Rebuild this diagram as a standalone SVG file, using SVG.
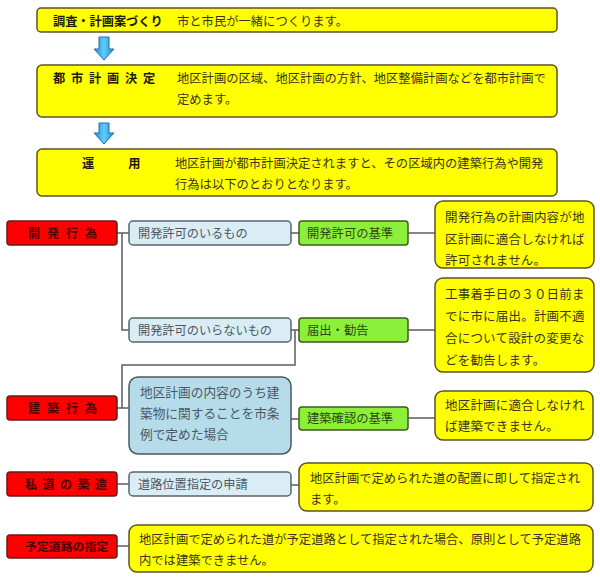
<svg xmlns="http://www.w3.org/2000/svg" width="600" height="581" viewBox="0 0 600 581">
<defs>
<linearGradient id="ag" x1="0" y1="0" x2="1" y2="0">
<stop offset="0" stop-color="#1a8fd8"/><stop offset="0.5" stop-color="#62ccf8"/><stop offset="1" stop-color="#1a8fd8"/>
</linearGradient>
<style>
text { font-family: "Noto Sans CJK JP", sans-serif; }
.y { fill:#ffff00; stroke:#5c5228; stroke-width:1.5; }
.r { fill:#ff0000; stroke:#6a1a1a; stroke-width:1.5; }
.lb { fill:#dbedf4; stroke:#56646e; stroke-width:1.5; }
.b { fill:#b5dce8; stroke:#4a5862; stroke-width:1.5; }
.g { fill:#8cf03a; stroke:#3e5a20; stroke-width:1.5; }
.t { font-size:12.3px; fill:#3a3418; }
.ty { font-size:12.5px; fill:#3a3418; letter-spacing:0.2px; }
.h { font-size:12.2px; font-weight:700; fill:#1c1c00; }
.rt { font-size:12px; font-weight:700; fill:#4a0000; }
.lt { font-size:12.2px; fill:#4a5866; }
.bt { font-size:12.7px; fill:#4a5866; }
.gt { font-size:12.3px; fill:#2e4a10; }
.c { fill:none; stroke:#5c5c5c; stroke-width:1.5; }
.ar { fill:url(#ag); stroke:#2a6aa8; stroke-width:1; }
</style>
</defs>

<g id="step1">
<rect class="y" x="37" y="8" width="520" height="24" rx="4"/>
<text class="h" x="53" y="26">調査・計画案づくり</text>
<text class="t" x="177" y="26">市と市民が一緒につくります。</text>
</g>
<g id="step2">
<rect class="y" x="37" y="65" width="520" height="52" rx="5"/>
<text class="h" x="53" y="83" style="letter-spacing:5.8px">都市計画決定</text>
<text class="t" x="177" y="83">地区計画の区域、地区計画の方針、地区整備計画などを都市計画で</text>
<text class="t" x="177" y="104">定めます。</text>
</g>
<g id="step3">
<rect class="y" x="37" y="149" width="520" height="47" rx="5"/>
<text class="h" x="82" y="168" style="letter-spacing:3.2px">運　　用</text>
<text class="t" x="175" y="168">地区計画が都市計画決定されますと、その区域内の建築行為や開発</text>
<text class="t" x="175" y="189">行為は以下のとおりとなります。</text>
</g>
<g id="arrows">
<path class="ar" d="M99,37 H109 V49 H114 L104,60 L94,49 H99 Z"/>
<path class="ar" d="M99,123 H109 V133 H114 L104,144 L94,133 H99 Z"/>
</g>

<g id="connectors">
<path class="c" d="M117,233 H129"/>
<path class="c" d="M122,233 V330 H129"/>
<path class="c" d="M291,233 H299"/>
<path class="c" d="M408,233 H435"/>
<path class="c" d="M291,330 H299"/>
<path class="c" d="M408,330 H435"/>
<path class="c" d="M295,330 V365 H122 V408"/>
<path class="c" d="M117,408 H129"/>
<path class="c" d="M291,419 H299"/>
<path class="c" d="M408,418 H435"/>
<path class="c" d="M117,484 H129"/>
<path class="c" d="M291,485 H299"/>
<path class="c" d="M117,546 H129"/>
</g>

<g id="kaihatsu">
<rect class="r" x="7" y="221" width="110" height="24" rx="3"/>
<text class="rt" x="28" y="238" style="letter-spacing:7px">開発行為</text>
</g>
<g id="kenchiku">
<rect class="r" x="7" y="396" width="110" height="24" rx="3"/>
<text class="rt" x="28" y="413" style="letter-spacing:7px">建築行為</text>
</g>
<g id="shido">
<rect class="r" x="7" y="472" width="110" height="24" rx="3"/>
<text class="rt" x="25" y="489" style="letter-spacing:5.5px">私道の築造</text>
</g>
<g id="yotei">
<rect class="r" x="7" y="535" width="110" height="23" rx="3"/>
<text class="rt" x="25" y="551" style="font-size:11.9px">予定道路の指定</text>
</g>

<g id="kyoka-iru">
<rect class="lb" x="129" y="221" width="162" height="24" rx="4"/>
<text class="lt" x="138" y="238">開発許可のいるもの</text>
</g>
<g id="kyoka-iranai">
<rect class="lb" x="129" y="318" width="162" height="24" rx="4"/>
<text class="lt" x="138" y="335">開発許可のいらないもの</text>
</g>
<g id="jorei">
<rect class="b" x="129" y="377" width="162" height="77" rx="9"/>
<text class="bt" x="140" y="397">地区計画の内容のうち建</text>
<text class="bt" x="140" y="418">築物に関することを市条</text>
<text class="bt" x="140" y="439">例で定めた場合</text>
</g>
<g id="doro-shitei">
<rect class="lb" x="129" y="472" width="162" height="24" rx="4"/>
<text class="lt" x="138" y="489">道路位置指定の申請</text>
</g>

<g id="kijun">
<rect class="g" x="299" y="221" width="109" height="24" rx="3"/>
<text class="gt" x="307" y="238">開発許可の基準</text>
</g>
<g id="todokede">
<rect class="g" x="299" y="318" width="109" height="24" rx="3"/>
<text class="gt" x="307" y="335">届出・勧告</text>
</g>
<g id="kakunin">
<rect class="g" x="299" y="407" width="109" height="23" rx="3"/>
<text class="gt" x="307" y="423">建築確認の基準</text>
</g>

<g id="note1">
<rect class="y" x="435" y="201" width="159" height="67" rx="8"/>
<text class="ty" x="445" y="222">開発行為の計画内容が地</text>
<text class="ty" x="445" y="244">区計画に適合しなければ</text>
<text class="ty" x="445" y="265">許可されません。</text>
</g>
<g id="note2">
<rect class="y" x="435" y="278" width="159" height="94" rx="8"/>
<text class="ty" x="445" y="299">工事着手日の３０日前ま</text>
<text class="ty" x="445" y="321">でに市に届出。計画不適</text>
<text class="ty" x="445" y="343">合について設計の変更な</text>
<text class="ty" x="445" y="365">どを勧告します。</text>
</g>
<g id="note3">
<rect class="y" x="435" y="391" width="158" height="49" rx="8"/>
<text class="ty" x="445" y="410">地区計画に適合しなけれ</text>
<text class="ty" x="445" y="431">ば建築できません。</text>
</g>
<g id="note4">
<rect class="y" x="299" y="463" width="294" height="48" rx="8"/>
<text class="t" x="310" y="483">地区計画で定められた道の配置に即して指定され</text>
<text class="t" x="310" y="504">ます。</text>
</g>
<g id="note5">
<rect class="y" x="129" y="525" width="464" height="47" rx="8"/>
<text class="t" x="139" y="544">地区計画で定められた道が予定道路として指定された場合、原則として予定道路</text>
<text class="t" x="139" y="565">内では建築できません。</text>
</g>
</svg>
